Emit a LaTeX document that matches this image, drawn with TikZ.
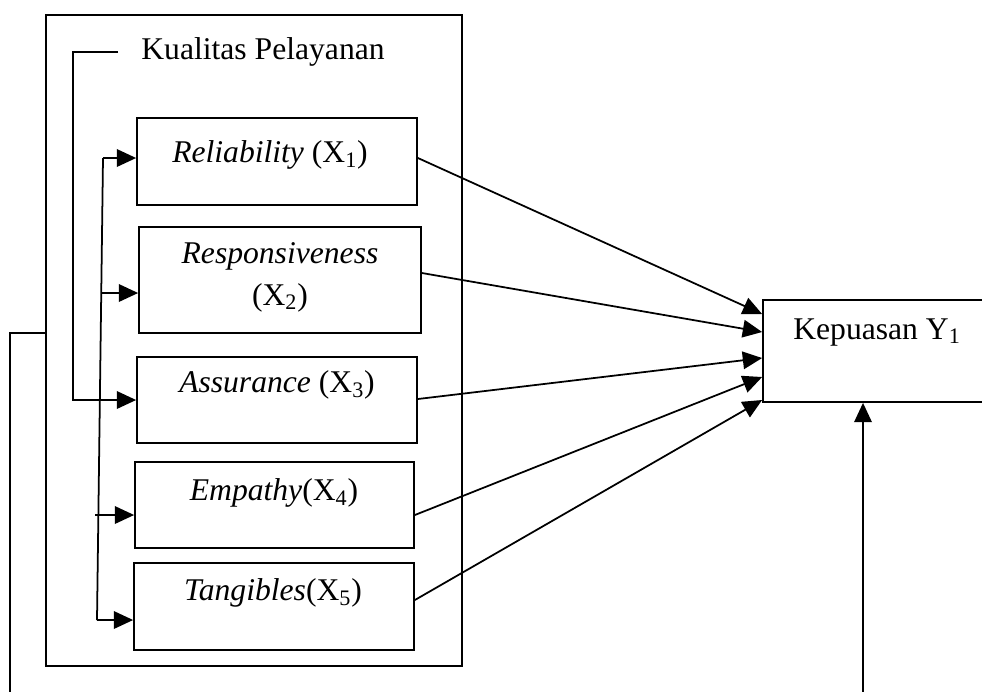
\documentclass[tikz,border=0pt]{standalone}
\usepackage{fontspec}
\setmainfont{Liberation Serif}
\usetikzlibrary{arrows.meta}
\begin{document}
\begin{tikzpicture}[x=0.02cm,y=-0.02cm,
  line width=1pt,
  every node/.style={font=\fontsize{18}{22}\selectfont},
  box/.style={draw,line width=1pt,inner sep=0pt},
  lbl/.style={inner sep=0pt,align=center},
  arr/.style={-{Triangle[length=11pt,width=10pt]}}]
\useasboundingbox (0,0) rectangle (982,691);
% outer container
\node[box,minimum width=416*0.02cm,minimum height=651*0.02cm] (outer) at (254,340.5) {};
\node[lbl] (title) at (263,52) {Kualitas Pelayanan};
% boxes
\node[box,minimum width=280*0.02cm,minimum height=87*0.02cm] (b1) at (277,161.5) {};
\node[box,minimum width=282*0.02cm,minimum height=106*0.02cm] (b2) at (280,280) {};
\node[box,minimum width=280*0.02cm,minimum height=86*0.02cm] (b3) at (277,400) {};
\node[box,minimum width=279*0.02cm,minimum height=86*0.02cm] (b4) at (274.5,505) {};
\node[box,minimum width=280*0.02cm,minimum height=87*0.02cm] (b5) at (274,606.5) {};
\node[lbl] (t1) at (270,155) {\textit{Reliability} (X\textsubscript{1})};
\node[lbl] (t2) at (280,277) {\textit{Responsiveness}\\[2pt](X\textsubscript{2})};
\node[lbl] (t3) at (277,385) {\textit{Assurance} (X\textsubscript{3})};
\node[lbl] (t4) at (274,493) {\textit{Empathy}(X\textsubscript{4})};
\node[lbl] (t5) at (273,593) {\textit{Tangibles}(X\textsubscript{5})};
% Kepuasan
\node[box,minimum width=240*0.02cm,minimum height=102*0.02cm] (kep) at (883,351) {};
\node[lbl] (tk) at (877,332) {Kepuasan Y\textsubscript{1}};
% bracket from title
\coordinate (br) at (118,52);
\draw[arr] (br) -- (73,52) -- (73,400) -- (b3.west |- 73,400);
% vertical distributor
\coordinate (vt) at (103,158);
\coordinate (vb) at (97,620);
\draw (vt) -- (vb);
\draw[arr] (vt) -- (b1.west |- 103,158);
\draw[arr] (101.2,293) -- (b2.west |- 101.2,293);
\draw[arr] (95,515) -- (b4.west |- 95,515);
\draw[arr] (vb) -- (b5.west |- 97,620);
% outer left line
\coordinate (ol) at (10,700);
\draw (outer.west |- 46,333) -- (10,333) -- (ol);
% arrows to Kepuasan
\draw[arr] (b1.east |- 0,158) -- (kep.west |- 0,314);
\draw[arr] (b2.east |- 0,273) -- (kep.west |- 0,332);
\draw[arr] (b3.east |- 0,399) -- (kep.west |- 0,358);
\draw[arr] (b4.east |- 0,515) -- (kep.west |- 0,377);
\draw[arr] (b5.east |- 0,600) -- (kep.west |- 0,400);
% bottom arrow
\coordinate (ub) at (863,700);
\draw[arr] (ub) -- (863,0 |- kep.south);
\end{tikzpicture}
\end{document}
